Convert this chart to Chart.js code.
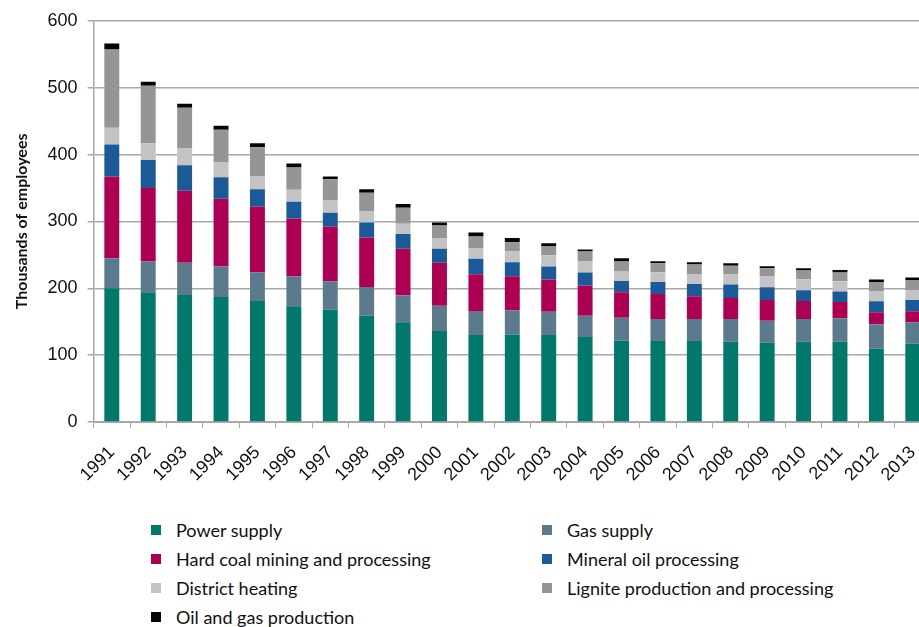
<!DOCTYPE html>
<html>
<head>
<meta charset="utf-8">
<script src="https://cdn.jsdelivr.net/npm/chart.js@4"></script>
<style>
  html, body { margin: 0; padding: 0; background: #fff; overflow: hidden; }
  body { width: 919px; height: 627px; position: relative; }
  #chart-box { position: absolute; left: 0; top: 0; width: 945px; height: 500px; }
  #legend {
    position: absolute; left: 151px; top: 518px;
    display: grid; grid-template-columns: 391px 330px; row-gap: 6px;
    font-family: Lato, sans-serif; font-size: 18px; color: #111;
  }
  .item { display: flex; align-items: center; height: 23px; }
  .swatch { width: 10px; height: 10px; margin-right: 15px; flex: none; }
</style>
</head>
<body>
<div id="chart-box"><canvas id="chart"></canvas></div>
<div id="legend"></div>
<script>
const years = ["1991", "1992", "1993", "1994", "1995", "1996", "1997", "1998", "1999", "2000", "2001", "2002",
  "2003", "2004", "2005", "2006", "2007", "2008", "2009", "2010", "2011", "2012", "2013"];

// thousands of employees
const powerSupply = [200, 193, 190, 187, 181, 173, 168, 159, 149, 136, 130, 131, 130, 127, 122, 121, 121, 120, 118.5, 120, 120, 110, 117];
const gasSupply = [45, 47, 48, 46, 43, 44.5, 42, 43, 40, 38, 36, 36, 35, 32, 34, 33, 33, 34, 33, 34, 35, 36, 32];
const hardCoal = [122, 110, 108, 101, 98, 87, 82, 74, 70, 64, 55, 51, 48, 45, 38, 37.5, 34, 31.5, 31, 27, 24.5, 18, 16.5];
const mineralOil = [48, 42, 38, 32, 26, 25, 21, 22.5, 22, 21, 23, 21, 19.5, 19.5, 17, 18, 18.5, 20, 19, 16, 15.5, 16.5, 17];
const districtHeating = [25, 25, 25, 23, 20, 18, 19, 17, 15.5, 16, 15.5, 16, 17, 16.5, 15, 14.5, 15, 16, 16, 16.5, 15.5, 15.5, 15];
const lignite = [117, 86, 61, 48, 43, 33, 31, 27.5, 24, 19, 18, 14, 13, 15, 14, 13.5, 14, 12, 12.5, 13, 13, 13.5, 15];
const oilGas = [9, 6, 6, 6, 6, 6, 4, 5, 5.5, 4.5, 6, 6, 5, 3, 5, 3, 3.5, 4, 3, 3.5, 4, 3.5, 3.5];

const yTicks = [0, 100, 200, 300, 400, 500, 600];

const series = [
  { label: "Power supply", data: powerSupply, color: "#00786a" },
  { label: "Gas supply", data: gasSupply, color: "#5c7a8e" },
  { label: "Hard coal mining and processing", data: hardCoal, color: "#ae0052" },
  { label: "Mineral oil processing", data: mineralOil, color: "#1b5a98" },
  { label: "District heating", data: districtHeating, color: "#c3c3c3" },
  { label: "Lignite production and processing", data: lignite, color: "#959595" },
  { label: "Oil and gas production", data: oilGas, color: "#050505" },
];

// legend in two columns, same order as the reference
const legendEl = document.getElementById("legend");
series.forEach((s) => {
  const div = document.createElement("div");
  div.className = "item";
  const sw = document.createElement("span");
  sw.className = "swatch";
  sw.style.background = s.color;
  const txt = document.createElement("span");
  txt.textContent = s.label;
  div.appendChild(sw);
  div.appendChild(txt);
  legendEl.appendChild(div);
});

const gridColor = "#a8a8a8";

new Chart(document.getElementById("chart"), {
  type: "bar",
  data: {
    labels: years,
    datasets: series.map((s) => ({
      label: s.label,
      data: s.data,
      backgroundColor: s.color,
      borderWidth: 0,
      barPercentage: 0.41,
      categoryPercentage: 1,
    })),
  },
  options: {
    responsive: true,
    maintainAspectRatio: false,
    animation: false,
    layout: { padding: { top: 20, right: 14, left: 0, bottom: 0 } },
    plugins: {
      legend: { display: false },
      tooltip: { enabled: false },
    },
    scales: {
      x: {
        stacked: true,
        afterFit: (s) => { s.height = 78; },
        grid: { display: true, drawOnChartArea: false, tickLength: 6, color: gridColor, offset: true },
        border: { color: gridColor, width: 1 },
        ticks: {
          autoSkip: false,
          maxRotation: 45,
          minRotation: 45,
          padding: 14,
          color: "#111",
          font: { family: "'Liberation Sans', Arial, sans-serif", size: 18 },
        },
      },
      y: {
        stacked: true,
        min: 0,
        max: 600,
        afterFit: (s) => { s.width = 93.6; },
        afterBuildTicks: (s) => { s.ticks = yTicks.map((v) => ({ value: v })); },
        grid: { color: gridColor, lineWidth: 1.5, tickLength: 6 },
        border: { color: gridColor, width: 1.5 },
        ticks: {
          padding: 10,
          color: "#111",
          font: { family: "'Liberation Sans', Arial, sans-serif", size: 18 },
        },
        title: {
          display: true,
          text: "Thousands of employees",
          color: "#111",
          padding: { top: 12, bottom: 0 },
          font: { family: "Lato, sans-serif", size: 16, weight: "bold" },
        },
      },
    },
  },
});
</script>
</body>
</html>
